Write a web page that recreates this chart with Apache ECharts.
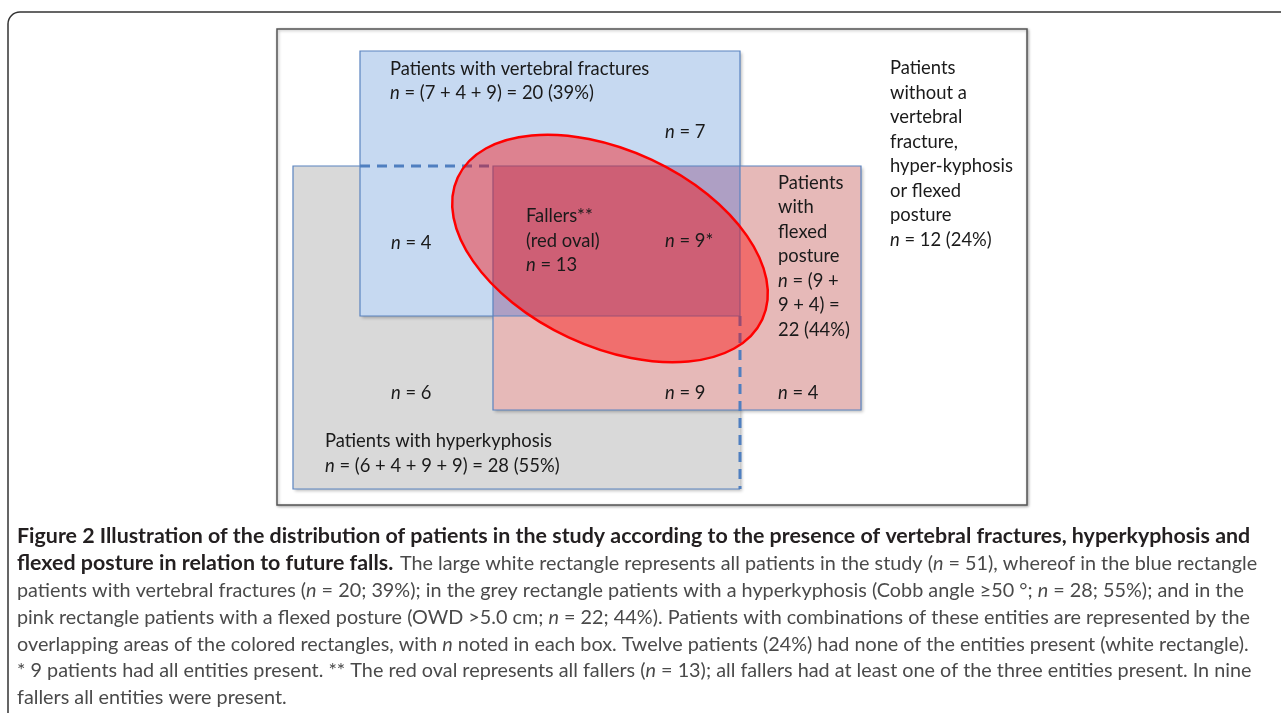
<!DOCTYPE html>
<html>
<head>
<meta charset="utf-8">
<script src="https://cdn.jsdelivr.net/npm/echarts@6/dist/echarts.min.js"></script>
<style>
html,body{margin:0;padding:0;background:#fff}
#main{width:1281px;height:713px}
</style>
</head>
<body>
<div id="main"></div>
<script>
// counts in each part of the diagram
var regionNames = ['fracture only', 'fracture + kyphosis', 'all three', 'kyphosis only', 'kyphosis + flexed', 'flexed only']
var regionCounts = [7, 4, 9, 6, 9, 4]
var regionMarks = ['', '', '*', '', '', '']
var noneCount = 12
var nonePct = '24%'
var fallerCount = 13
var totalCount = 51

var groupTitles = ['Patients with vertebral fractures', 'Patients with hyperkyphosis', 'Patients with flexed posture']
var groupParts = [[0, 1, 2], [3, 1, 2, 4], [2, 4, 5]]
var groupPct = ['39%', '55%', '44%']

// layout, in pixels of the picture
var boxWhite = [277, 29, 1027, 505]
var boxGrey = [293, 166, 740, 489]
var boxBlue = [360, 51, 740, 316]
var boxPink = [493, 166, 861, 410]
var regionPos = [[665, 132], [391, 243], [665, 241], [391, 393], [665, 393], [778, 393]]
var ovalCenter = [610, 248.5]
var ovalRadius = [168, 98]
var ovalAngle = -25
var lineStep = 24.5

var txtColor = '#1a1a1a'
var edgeColor = '#5a84c0'
var fontDiag = 'Lato'
var sizeDiag = 18.4

function groupLine(g) {
  var parts = groupParts[g].map(function (i) { return regionCounts[i] })
  var sum = parts.reduce(function (a, b) { return a + b }, 0)
  return { parts: parts, sum: sum }
}

var overlap = [Math.max(boxBlue[0], boxPink[0]), Math.max(boxBlue[1], boxPink[1]),
               Math.min(boxBlue[2], boxPink[2]), Math.min(boxBlue[3], boxPink[3])]

// labels: [x, y] and text
var labelPos = []
var labelText = []
function addLines(x, y, lines) {
  for (var i = 0; i < lines.length; i++) {
    labelPos.push([x, y + i * lineStep])
    labelText.push(lines[i])
  }
}
for (var r = 0; r < regionCounts.length; r++) {
  addLines(regionPos[r][0], regionPos[r][1], ['{i|n} = ' + regionCounts[r] + regionMarks[r]])
}
var g0 = groupLine(0), g1 = groupLine(1), g2 = groupLine(2)
addLines(390, 69, [groupTitles[0], '{i|n} = (' + g0.parts.join(' + ') + ') = ' + g0.sum + ' (' + groupPct[0] + ')'])
addLines(325, 441.5, [groupTitles[1], '{i|n} = (' + g1.parts.join(' + ') + ') = ' + g1.sum + ' (' + groupPct[1] + ')'])
addLines(778, 183, ['Patients', 'with', 'flexed', 'posture',
  '{i|n} = (' + g2.parts[0] + ' +', g2.parts[1] + ' + ' + g2.parts[2] + ') =', g2.sum + ' (' + groupPct[2] + ')'])
addLines(526, 216.5, ['Fallers**', '(red oval)', '{i|n} = ' + fallerCount])
addLines(890, 68.5, ['Patients', 'without a', 'vertebral', 'fracture,', 'hyper-kyphosis', 'or flexed', 'posture',
  '{i|n} = ' + noneCount + ' (' + nonePct + ')'])

var fillBoxes = [boxWhite, boxGrey, boxBlue, boxPink, overlap]
var fillStyles = [
  { fill: '#ffffff', stroke: '#555555', lineWidth: 1.5, shadowBlur: 3, shadowOffsetX: 1, shadowOffsetY: 1, shadowColor: 'rgba(0,0,0,0.3)' },
  { fill: '#d9d9d9', shadowBlur: 3, shadowOffsetX: 2, shadowOffsetY: 2, shadowColor: 'rgba(0,0,0,0.25)' },
  { fill: '#c6d9f1', shadowBlur: 3, shadowOffsetX: 2, shadowOffsetY: 2, shadowColor: 'rgba(0,0,0,0.25)' },
  { fill: '#e6b9b8', shadowBlur: 3, shadowOffsetX: 2, shadowOffsetY: 2, shadowColor: 'rgba(0,0,0,0.25)' },
  { fill: '#ae9fc4' }
]
var edgeBoxes = [boxBlue, boxPink]
var dashLines = [[boxBlue[0], boxGrey[1], boxPink[0], boxGrey[1]], [boxGrey[2], boxBlue[3], boxGrey[2], boxGrey[3]]]

function rectItem(params, api) {
  var p0 = api.coord([api.value(0), api.value(1)])
  var p1 = api.coord([api.value(2), api.value(3)])
  return { p0: p0, p1: p1 }
}

var richN = {
  i: { fontFamily: fontDiag, fontSize: sizeDiag, fontStyle: 'italic', fill: txtColor }
}

var capBold = { fontFamily: 'Lato', fontSize: 20, fontWeight: 'bold', fill: '#231f20' }
var capReg = { fontFamily: 'Lato', fontSize: 20, fill: '#4a4a4a' }
var capIt = { fontFamily: 'Lato', fontSize: 20, fontStyle: 'italic', fill: '#4a4a4a' }
var capLines = [
  'patients with vertebral fractures ({i|n} = 20; 39%); in the grey rectangle patients with a hyperkyphosis (Cobb angle \u226550 \u00b0; {i|n} = 28; 55%); and in the',
  'pink rectangle patients with a flexed posture (OWD >5.0 cm; {i|n} = 22; 44%). Patients with combinations of these entities are represented by the',
  'overlapping areas of the colored rectangles, with {i|n} noted in each box. Twelve patients (24%) had none of the entities present (white rectangle).',
  '* 9 patients had all entities present. ** The red oval represents all fallers ({i|n} = 13); all fallers had at least one of the three entities present. In nine',
  'fallers all entities were present.'
]
var regScale = 0.99
var boldScale = 1.07

var graphics = [
  { type: 'rect', shape: { x: 8, y: 12, width: 1320, height: 740, r: 12 }, style: { fill: 'none', stroke: '#333', lineWidth: 1.5 }, z: 10 },
  { type: 'text', x: 17, y: 537, scaleX: boldScale, style: Object.assign({ text: 'Figure 2 Illustration of the distribution of patients in the study according to the presence of vertebral fractures, hyperkyphosis and', verticalAlign: 'middle' }, capBold), z: 10 },
  { type: 'text', x: 17, y: 564, scaleX: boldScale, style: Object.assign({ text: 'flexed posture in relation to future falls.', verticalAlign: 'middle' }, capBold), z: 10 },
  { type: 'text', x: 400, y: 564, scaleX: regScale, style: Object.assign({ text: 'The large white rectangle represents all patients in the study ({i|n} = ' + totalCount + '), whereof in the blue rectangle', verticalAlign: 'middle', rich: { i: capIt } }, capReg), z: 10 }
]
for (var k = 0; k < capLines.length; k++) {
  graphics.push({ type: 'text', x: 17, y: 590.7 + k * 26.7, scaleX: regScale,
    style: Object.assign({ text: capLines[k], verticalAlign: 'middle', rich: { i: capIt } }, capReg), z: 10 })
}

var chart = echarts.init(document.getElementById('main'))
chart.setOption({
  animation: false,
  grid: { left: 0, right: 0, top: 0, bottom: 0 },
  xAxis: { type: 'value', min: 0, max: 1281, show: false },
  yAxis: { type: 'value', min: 0, max: 713, inverse: true, show: false },
  graphic: graphics,
  series: [
    {
      type: 'custom', name: 'boxes', data: fillBoxes,
      renderItem: function (params, api) {
        var r = rectItem(params, api)
        return { type: 'rect', shape: { x: r.p0[0], y: r.p0[1], width: r.p1[0] - r.p0[0], height: r.p1[1] - r.p0[1] },
          style: fillStyles[params.dataIndex] }
      }
    },
    {
      type: 'custom', name: 'grey edge', data: [boxGrey],
      renderItem: function (params, api) {
        var r = rectItem(params, api)
        var xb = api.coord([boxBlue[0], 0])[0]
        return { type: 'polyline', shape: { points: [[xb, r.p0[1]], [r.p0[0], r.p0[1]], [r.p0[0], r.p1[1]], [r.p1[0], r.p1[1]]] },
          style: { stroke: edgeColor, lineWidth: 1.2, fill: null } }
      }
    },
    {
      type: 'custom', name: 'edges', data: edgeBoxes,
      renderItem: function (params, api) {
        var r = rectItem(params, api)
        return { type: 'rect', shape: { x: r.p0[0], y: r.p0[1], width: r.p1[0] - r.p0[0], height: r.p1[1] - r.p0[1] },
          style: { fill: null, stroke: edgeColor, lineWidth: 1.2 } }
      }
    },
    {
      type: 'custom', name: 'hidden edges', data: dashLines,
      renderItem: function (params, api) {
        var r = rectItem(params, api)
        return { type: 'line', shape: { x1: r.p0[0], y1: r.p0[1], x2: r.p1[0], y2: r.p1[1] },
          style: { stroke: '#4f7fc0', lineWidth: 3, lineDash: [10, 7] } }
      }
    },
    {
      type: 'custom', name: 'fallers', data: [ovalCenter],
      renderItem: function (params, api) {
        var c = api.coord([api.value(0), api.value(1)])
        var s = api.size(ovalRadius)
        return { type: 'ellipse', x: c[0], y: c[1], rotation: ovalAngle * Math.PI / 180,
          shape: { cx: 0, cy: 0, rx: s[0], ry: s[1] },
          style: { fill: 'rgba(255,0,0,0.4)', stroke: '#ff0000', lineWidth: 2.5 } }
      }
    },
    {
      type: 'custom', name: 'labels', data: labelPos,
      renderItem: function (params, api) {
        var c = api.coord([api.value(0), api.value(1)])
        return { type: 'text', x: c[0], y: c[1],
          style: { text: labelText[params.dataIndex], fontFamily: fontDiag, fontSize: sizeDiag, fill: txtColor,
            align: 'left', verticalAlign: 'middle', rich: richN } }
      }
    }
  ]
})
</script>
</body>
</html>
